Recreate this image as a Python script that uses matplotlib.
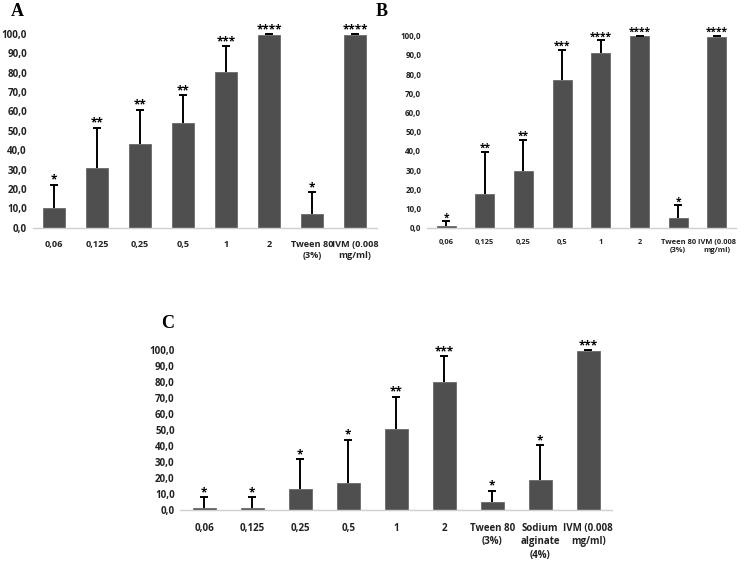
import numpy as np
import matplotlib
matplotlib.use("Agg")
import matplotlib.pyplot as plt

# ================= DATA =================
labels_ab = ['0,06', '0,125', '0,25', '0,5', '1', '2', 'Tween 80\n(3%)', 'IVM (0.008\nmg/ml)']
labels_c = ['0,06', '0,125', '0,25', '0,5', '1', '2', 'Tween 80\n(3%)', 'Sodium\nalginate\n(4%)',
            'IVM (0.008\nmg/ml)']

mean_a = [10.3, 30.9, 43.1, 54.2, 80.6, 99.7, 7.0, 99.5]
err_a = [12.0, 20.7, 17.8, 14.1, 13.2, 0.4, 11.4, 0.5]
stars_a = ['*', '**', '**', '**', '***', '****', '*', '****']

mean_b = [0.8, 17.7, 29.3, 77.0, 90.8, 99.7, 5.0, 99.3]
err_b = [2.5, 21.9, 16.4, 15.6, 6.7, 0.3, 6.6, 0.5]
stars_b = ['*', '**', '**', '***', '****', '****', '*', '****']

mean_c = [1.5, 1.7, 13.1, 17.3, 50.9, 80.0, 5.2, 18.9, 99.6]
err_c = [6.8, 6.4, 18.9, 26.8, 20.0, 16.3, 7.1, 21.8, 0.3]
stars_c = ['*', '*', '*', '*', '**', '***', '*', '*', '***']

W, H = 745, 562
BAR = '#4f4f4f'
FONT = 'Open Sans'


# ================= PANEL =================
def panel(fig, x0, x1, y0, y100, labels, means, errs, stars, fs, xfs, pad, letter, lpos):
    ax = fig.add_axes([x0 / W, 1 - y0 / H, (x1 - x0) / W, (y0 - y100) / H])
    n = len(means)
    x = np.arange(n)
    tops = np.array(means) + np.array(errs)
    ax.bar(x, means, width=0.49, color=BAR, edgecolor='#6a6a6a', linewidth=0.6, zorder=2)
    # plus-only error bars, cap only at the top
    ax.vlines(x, means, tops, colors='black', linewidth=1.4, zorder=3)
    ax.plot(x, tops, linestyle='none', marker='_', markersize=6, markeredgewidth=1.4,
            color='black', zorder=3, clip_on=False)
    for xi, t, s in zip(x, tops, stars):
        ax.annotate(s, (xi, t), xytext=(0, -1.5), textcoords='offset points',
                    ha='center', va='bottom', fontsize=fs + 1.5, fontweight='bold',
                    family=FONT, annotation_clip=False)
    ax.set_xlim(-0.5, n - 0.5)
    ax.set_ylim(0, 100)
    ax.set_yticks(np.arange(0, 101, 10))
    ax.set_yticklabels(['%d,0' % v for v in range(0, 101, 10)], fontsize=fs)
    ax.set_xticks(x)
    ax.set_xticklabels(labels, linespacing=1.3, fontsize=xfs)
    for t in ax.get_xticklabels() + ax.get_yticklabels():
        t.set_fontweight('bold')
        t.set_family(FONT)
        t.set_color('#222222')
    ax.tick_params(axis='y', length=0, pad=4)
    ax.tick_params(axis='x', length=0, pad=pad)
    for side in ['top', 'right', 'left']:
        ax.spines[side].set_visible(False)
    ax.spines['bottom'].set_color('#cfcfcf')
    ax.spines['bottom'].set_linewidth(1.0)
    ax.patch.set_alpha(0)
    fig.text(lpos[0] / W, 1 - lpos[1] / H, letter, fontsize=13, fontweight='bold',
             family='Liberation Serif', ha='left', va='center')
    return ax


fig = plt.figure(figsize=(W / 100, H / 100), dpi=100)

panel(fig, 32.5, 376.5, 227.7, 34.0, labels_ab, mean_a, err_a, stars_a, 7.0, 6.6, 9, 'A', (11, 12))
panel(fig, 426.7, 736.3, 227.7, 35.7, labels_ab, mean_b, err_b, stars_b, 5.8, 5.4, 8, 'B', (376, 12))
panel(fig, 180.3, 612.3, 510.3, 350.0, labels_c, mean_c, err_c, stars_c, 7.0, 7.0, 9, 'C', (161, 323))

fig.savefig('out.png', dpi=100)
